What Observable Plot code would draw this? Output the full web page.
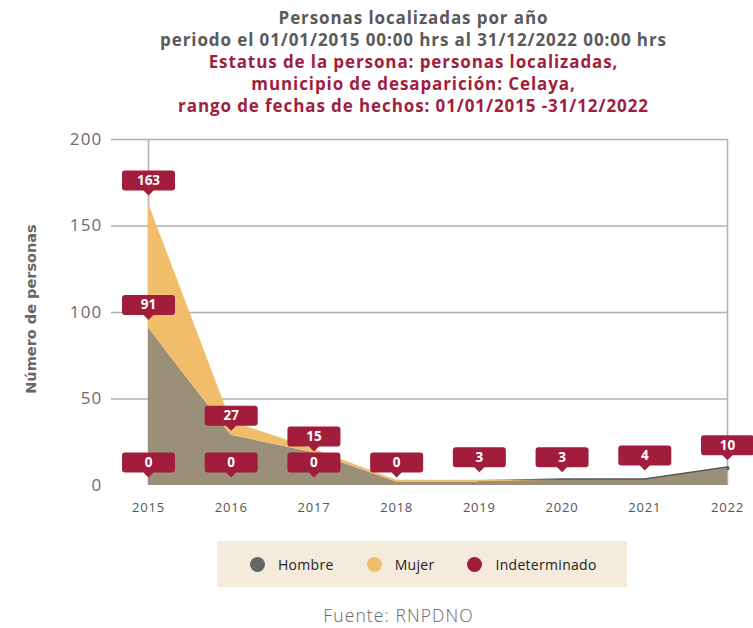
<!DOCTYPE html>
<html>
<head>
<meta charset="utf-8">
<script src="https://cdn.jsdelivr.net/npm/d3@7"></script>
<script src="https://cdn.jsdelivr.net/npm/@observablehq/plot@0.6"></script>
<style>
  html, body { margin: 0; padding: 0; background: #fff; }
  body { position: relative; width: 753px; font-family: "Open Sans", sans-serif; }
  #title { height: 124px; box-sizing: border-box; padding-top: 7px; padding-left: 74px; text-align: center; font-weight: 700; font-size: 17px; line-height: 22px; letter-spacing: 0.9px; }
  #title .g { color: #5a5a5a; }
  #title .r { color: #a01e3b; }
  #chart svg { display: block; }
  #ylabel { position: absolute; left: 31px; top: 309px; transform: translate(-50%, -50%) rotate(-90deg); white-space: nowrap; font-family: "DejaVu Sans", sans-serif; font-weight: 700; font-size: 14.5px; color: #666; }
  #legend { margin: 11px 0 0 217px; width: 410px; height: 46px; background: #f4ebdc; display: flex; align-items: center; box-sizing: border-box; padding-left: 33px; }
  .item { display: flex; align-items: center; font-size: 14px; letter-spacing: 0.3px; color: #222; font-weight: 500; margin-right: 33px; }
  .sw { width: 15px; height: 15px; border-radius: 50%; margin-right: 13px; }
  #caption { margin-top: 19px; text-align: center; padding-left: 44px; font-size: 17.5px; line-height: 18px; color: #666; font-weight: 300; letter-spacing: 1.1px; }
</style>
</head>
<body>
<div id="title"></div>
<div id="chart"></div>
<div id="legend"></div>
<div id="caption"></div>
<div id="ylabel"></div>
<script>
// ---- data ----
const titleLines = ["Personas localizadas por año", "periodo el 01/01/2015 00:00 hrs al 31/12/2022 00:00 hrs"];
const subtitleLines = ["Estatus de la persona: personas localizadas,", "municipio de desaparición: Celaya,", "rango de fechas de hechos: 01/01/2015 -31/12/2022"];
const years = [2015, 2016, 2017, 2018, 2019, 2020, 2021, 2022];
const series = ["Hombre", "Mujer", "Indeterminado"];
const seriesColors = ["#9b8f7a", "#f2bd6b", "#a21d3b"];
const legendColors = ["#666666", "#f2bd6b", "#a21d3b"];
const hombre = [91, 29, 19, 2, 2, 3, 3, 10];
const mujer = [72, 8, 2, 1, 1, 0, 0, 0];
const indeterminado = [0, 0, 0, 0, 0, 0, 0, 0];
const labelYears = [2015, 2015, 2015, 2016, 2016, 2017, 2017, 2018, 2019, 2020, 2021, 2022];
const labelValues = [163, 91, 0, 27, 0, 15, 0, 0, 3, 3, 4, 10];
const yTicks = [0, 50, 100, 150, 200];
const gridTicks = [50, 100, 150, 200];
const yLabel = "Número de personas";
const caption = "Fuente: RNPDNO";

// ---- build ----
document.getElementById("title").innerHTML =
  titleLines.map(t => `<div class="g">${t}</div>`).join("") +
  subtitleLines.map(t => `<div class="r">${t}</div>`).join("");
document.getElementById("ylabel").textContent = yLabel;

const seriesValues = [hombre, mujer, indeterminado];
const long = [];
series.forEach((s, si) => years.forEach((yr, i) => long.push({series: s, year: yr, value: seriesValues[si][i]})));
// the dark Hombre edge shows only where no Mujer area lies on top of it
const hombreEdge = years.map((yr, i) => ({year: yr, value: hombre[i], show: mujer[i] === 0 || mujer[i + 1] === 0}))
  .filter(d => d.show);
const labels = labelYears.map((yr, i) => ({year: yr, value: labelValues[i]}));

const red = "#a21d3b";
const tag = {
  draw(ctx) {
    const w = 53, h = 20, r = 3, g = 8, ph = 5, pw = 5;
    const tipY = -g, bb = tipY - ph, bt = bb - h;
    ctx.moveTo(-w / 2 + r, bt);
    ctx.lineTo(w / 2 - r, bt); ctx.arcTo(w / 2, bt, w / 2, bt + r, r);
    ctx.lineTo(w / 2, bb - r); ctx.arcTo(w / 2, bb, w / 2 - r, bb, r);
    ctx.lineTo(pw, bb); ctx.lineTo(0, tipY); ctx.lineTo(-pw, bb);
    ctx.lineTo(-w / 2 + r, bb); ctx.arcTo(-w / 2, bb, -w / 2, bb - r, r);
    ctx.lineTo(-w / 2, bt + r); ctx.arcTo(-w / 2, bt, -w / 2 + r, bt, r);
    ctx.closePath();
  }
};

const chart = Plot.plot({
  width: 753,
  height: 406,
  marginTop: 15,
  marginBottom: 45,
  marginLeft: 111,
  marginRight: 26,
  style: {fontFamily: "Open Sans, sans-serif", background: "transparent", overflow: "visible"},
  x: {domain: [2015, 2022], range: [148, 727]},
  y: {domain: [0, 200]},
  color: {domain: series, range: seriesColors},
  marks: [
    Plot.ruleY(gridTicks, {stroke: "#b0b0b0", strokeWidth: 1.3}),
    Plot.ruleX([2015, 2022], {stroke: "#b3b3b3", strokeWidth: 1.6}),
    Plot.lineY(hombreEdge, {x: "year", y: "value", stroke: "#555555", strokeWidth: 4}),
    Plot.areaY(long, {x: "year", y: "value", fill: "series", order: series}),
    Plot.axisY({ticks: yTicks, tickSize: 0, tickPadding: 9, fontSize: 17, color: "#6b6b6b", label: null}),
    Plot.axisX({ticks: years, tickFormat: d => String(d), tickSize: 0, tickPadding: 17, fontSize: 13, color: "#555555", label: null}),
    Plot.dot(labels, {x: "year", y: "value", symbol: tag, r: 5, fill: red, stroke: null}),
    Plot.text(labels, {x: "year", y: "value", text: d => String(d.value), dy: -23, fill: "white", fontSize: 13.5, fontWeight: 700})
  ]
});
document.getElementById("chart").append(chart);
d3.select(chart).selectAll('g[aria-label="y-axis tick label"] text').style("letter-spacing", "1.2px");
d3.select(chart).selectAll('g[aria-label="x-axis tick label"] text').style("letter-spacing", "0.8px");

const legend = d3.select("#legend");
series.forEach((s, i) => {
  const it = legend.append("div").attr("class", "item");
  it.append("div").attr("class", "sw").style("background", legendColors[i]);
  it.append("span").text(s);
});
document.getElementById("caption").textContent = caption;
</script>
</body>
</html>
